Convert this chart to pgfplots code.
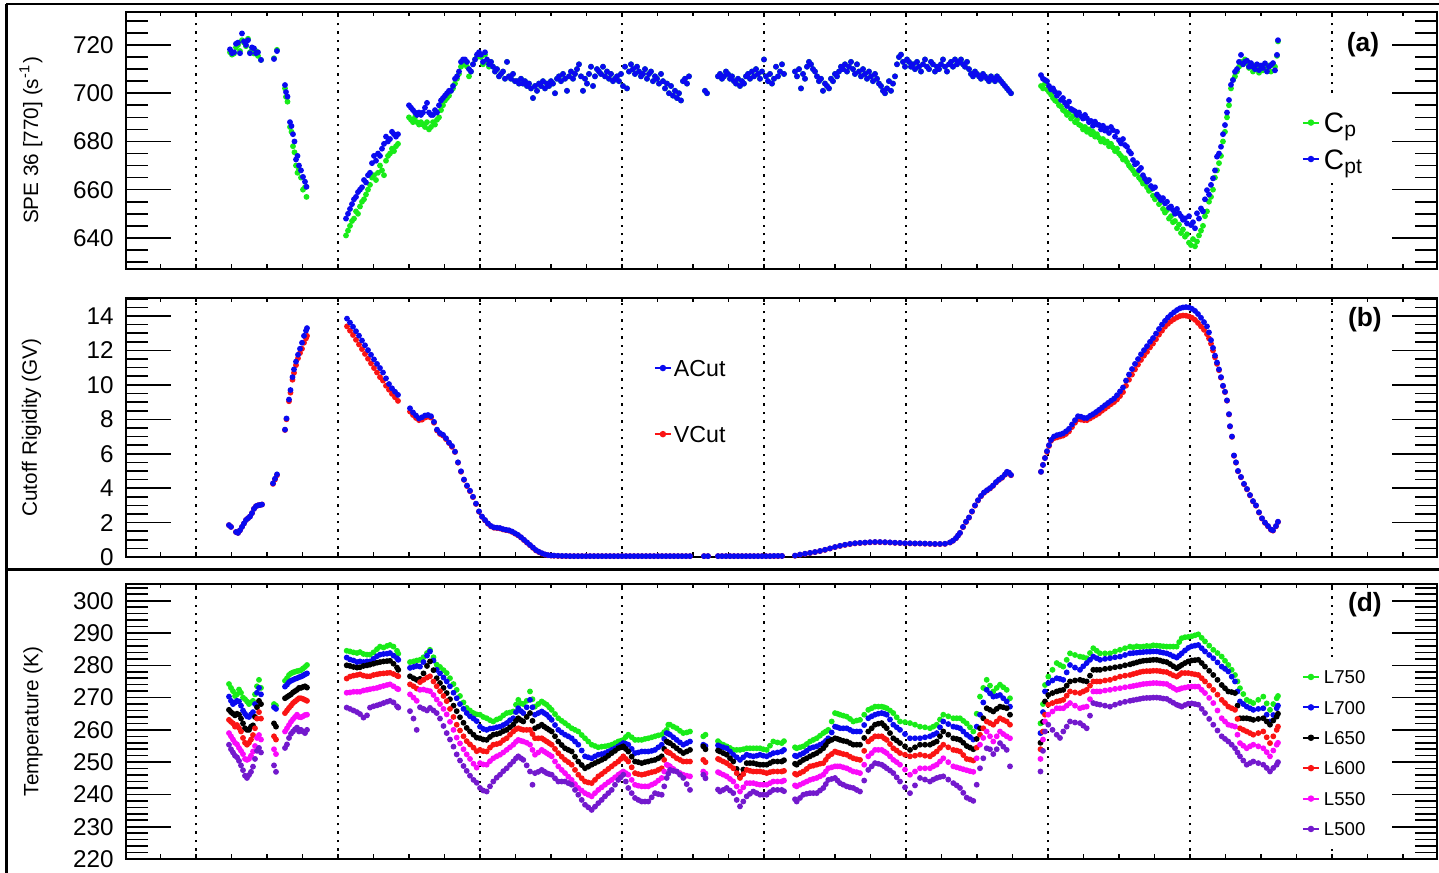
\documentclass[border=0pt]{standalone}
\usepackage{fontspec}
\setmainfont{Liberation Sans}
\usepackage{pgfplots}
\usepackage{pgfplotstable}
\pgfplotsset{compat=1.18}

\definecolor{cgreen}{RGB}{25,235,25}
\definecolor{cblue}{RGB}{10,10,240}
\definecolor{cred}{RGB}{250,20,20}
\definecolor{cmag}{RGB}{250,10,250}
\definecolor{cviol}{RGB}{115,25,205}

% ---------------- counting rates (panel a) ----------------
\pgfplotstableread{
x Cp Cpt
230 717.0 718.2
232 716.0 716.6
234 716.5 717.0
236 719.0 720.5
238 720.0 721.0
240 717.5 716.6
242 722.0 724.8
244 721.0 721.5
246 719.5 720.0
248 722.6 722.0
250 717.0 716.6
252 718.0 719.0
254 716.5 718.6
256 717.5 716.6
258 715.5 717.0
261 713.8 713.8
274 714.5 714.2
277 718.0 717.5
285 702.0 703.4
286 698.5 700.5
287.5 696.5 698.6
290 686.0 688.0
291.5 684.0 686.4
293 678.0 683.0
294.5 675.5 680.0
296 670.0 672.5
297.5 667.0 674.0
299 668.5 670.0
301 665.0 668.0
303 660.0 665.3
305 661.0 663.3
306.5 657.0 661.2
346 641 648
348 643 650
350 645 652
352 647 654
354 648 656
356 651 657
358 650 659
360 653 660
362 655 661
364 656 664
366 658 663
368 660 666
370 662 667
372 665 671
374 666 674
376 664 672
378 667 675
380 670 674
382 668 677
384 666 679
386 672 682
388 674 680
390 675 681
392 677 684
394 676 683
396 678 682
398 679 683
409 690 695
411 689 694
413 688 693
415 690 692
417 688 691
419 687 692
421 688 691
423 687 692
425 686 694
427 688 696
429 685 692
431 686 691
433 688 691
435 687 693
437 689 692
439 690 695
441 693 697
443 695 698
445 697 699
447 698 700
449 699 701
451 701 701
453 702 703
455 704 706
457 706 707
459 708 709
461 711 713
463 712 714
465 713 714
467 711 713
469 707 710
471 709 709
473 712 712
475 714 714
477 715 716
479 716 717
481 715 716
483 712 713
485 716 717
487 713 714
489 711 712
491 713 713
493 711 711
495 709 709
497 710 710
499 707 707
501 708 708
503 709 709
505 706 706
507 713 713
509 707 707
511 706 706
513 708 708
515 705 705
517 705 705
519 704 704
521 706 706
523 704 704
525 705 705
527 703 703
529 704 704
531 702 702
533 698 698
535 703 703
537 701 701
539 704 704
541 703 703
543 705 705
545 702 702
547 704 704
549 703 703
551 705 705
553 704 704
555 700 700
557 706 706
559 707 707
561 705 705
563 708 708
565 706 706
567 701 701
569 707 707
571 709 709
573 706 706
575 708 708
577 710 710
579 712 712
581 707 707
583 701 701
585 706 706
587 704 704
589 708 708
591 711 711
593 703 703
595 707 707
597 710 710
599 709 709
601 708 708
603 711 711
605 707 707
607 709 709
609 706 706
611 708 708
613 705 705
615 706 706
617 707 707
619 705 705
621 708 708
623 703 703
625 711 711
627 702 702
629 709 709
631 712 712
633 710 710
635 708 708
637 711 711
639 709 709
641 707 707
643 708 708
645 710 710
647 706 706
649 708 708
651 709 709
653 705 705
655 707 707
657 706 706
659 704 704
661 708 708
663 705 705
665 702 702
667 704 704
669 700 700
671 703 703
673 699 699
675 701 701
677 698 698
679 700 700
681 697 697
683 705 705
685 706 706
687 704 704
689 707 707
705 701 701
707 700 700
718 707 707
720 708 708
722 706 706
724 707 707
726 709 709
728 708 708
730 706 706
732 707 707
734 705 705
736 704 704
738 706 706
740 703 703
742 705 705
744 704 704
746 707 707
748 708 708
750 706 706
752 709 709
754 707 707
756 710 710
758 708 708
760 706 706
762 709 709
764 714 714
766 707 707
768 705 705
770 708 708
772 704 704
774 706 706
776 711 711
778 707 707
780 709 709
782 712 712
784 708 708
795 709 709
797 707 707
799 710 710
801 702 702
803 708 708
805 706 706
807 711 711
809 713 713
811 712 712
813 710 710
815 709 709
817 707 707
819 705 705
821 706 706
823 701 701
825 704 704
827 703 703
829 702 702
831 706 706
833 705 705
835 708 708
837 707 707
839 709 709
841 711 711
843 710 710
845 712 712
847 709 709
849 711 711
851 713 713
853 710 710
855 708 708
857 712 712
859 709 709
861 707 707
863 710 710
865 708 708
867 706 706
869 709 709
871 707 707
873 705 705
875 708 708
877 706 706
879 704 704
881 703 703
883 701 701
885 700 700
887 702 702
889 705 705
891 701 701
893 704 704
895 707 707
897 712 712
899 715 715
901 716 716
903 713 713
905 711 711
907 714 714
909 713 713
911 711 711
913 712 712
915 710 710
917 713 713
919 711 711
921 709 709
923 712 712
925 714 714
927 711 711
929 710 710
931 713 713
933 712 712
935 709 709
937 711 711
939 710 710
941 712 712
943 714 714
945 711 711
947 709 709
949 712 712
951 713 713
953 711 711
955 714 714
957 712 712
959 713 713
961 714 714
963 712 712
965 711 711
967 713 713
969 710 710
971 708 708
973 707 707
975 709 709
977 708 708
979 707 707
981 706 706
983 708 708
985 707 707
987 706 706
989 705 705
991 707 707
993 706 706
995 705 705
997 707 707
999 706 706
1001 705 705
1003 704 704
1005 703 703
1007 702 702
1009 701 701
1011 700 700
1041 703.0 707.5
1043 702.0 706.0
1045 704.0 705.5
1047 701.6 705.0
1049 700.5 703.0
1051 699.5 701.6
1053 698.0 702.0
1055 697.0 700.6
1057 696.5 699.0
1059 695.0 700.0
1061 694.5 697.2
1063 693.0 698.0
1065 692.5 696.0
1067 691.0 694.7
1069 692.0 696.5
1071 689.5 693.5
1073 690.5 693.0
1075 688.0 692.5
1077 689.0 691.0
1079 687.0 692.0
1081 686.5 690.5
1083 685.0 689.5
1085 686.0 691.0
1087 684.0 689.6
1089 685.0 688.0
1091 683.0 688.5
1093 684.0 686.5
1095 682.0 688.2
1097 683.0 687.0
1099 681.5 686.8
1101 680.0 685.0
1103 681.0 686.5
1105 679.5 684.5
1107 680.0 685.4
1109 678.0 683.5
1111 679.0 686.0
1113 677.5 684.7
1115 676.0 682.0
1117 677.0 684.0
1119 675.0 680.5
1121 674.0 679.2
1123 672.5 681.0
1125 673.0 678.5
1127 671.5 677.8
1129 670.0 676.0
1131 669.0 675.0
1133 668.0 672.3
1135 666.5 670.5
1137 667.0 671.0
1139 665.0 668.1
1141 664.0 669.0
1143 662.5 666.0
1145 663.0 664.5
1147 661.0 663.3
1149 659.5 664.0
1151 660.0 661.5
1153 657.5 660.5
1155 656.0 661.0
1157 657.0 658.0
1159 654.0 657.0
1161 655.0 655.7
1163 652.0 656.5
1165 650.5 654.3
1167 651.5 655.0
1169 648.0 652.5
1171 649.0 653.0
1173 646.5 651.5
1175 647.0 650.0
1177 644.0 652.0
1179 645.5 650.2
1181 642.0 649.0
1183 643.5 647.5
1185 640.5 648.1
1187 641.5 646.0
1189 638.0 649.0
1191 637.0 645.3
1193 639.5 646.5
1195 636.5 644.0
1197 638.5 650.2
1199 641.0 648.0
1201 643.0 652.2
1203 645.0 651.0
1205 649.0 656.0
1207 651.0 659.8
1209 655.0 658.0
1211 657.0 662.0
1213 660.0 664.7
1215 665.0 668.0
1217 668.0 673.7
1219 671.0 675.0
1221 674.0 677.8
1223 680.0 683.0
1225 684.0 686.8
1227 690.0 692.0
1229 695.0 697.2
1231 702.0 703.5
1233 705.5 705.5
1235 707.0 708.9
1237 709.0 710.0
1239 711.0 713.0
1241 713.0 715.9
1243 712.0 712.0
1245 714.0 713.1
1247 712.5 713.5
1249 710.5 711.0
1251 712.0 712.5
1253 709.0 711.0
1255 711.5 710.0
1257 710.0 712.0
1259 708.5 709.6
1261 711.0 711.5
1263 709.5 710.5
1265 712.0 712.4
1267 710.5 709.0
1269 711.5 711.0
1271 709.0 711.7
1273 712.0 712.5
1275 711.0 709.5
1277 715.5 715.9
1278 721.5 722.0
}\tabRate

% ---------------- cutoff rigidities (panel b) ----------------
\pgfplotstableread{
x A V
229 1.85 1.85
231 1.75 1.75
236 1.45 1.45
238 1.40 1.40
240 1.55 1.55
242 1.75 1.75
244 1.95 1.95
246 2.15 2.15
248 2.25 2.25
250 2.35 2.35
252 2.55 2.55
254 2.80 2.80
256 2.95 2.95
258 3.00 3.00
260 3.02 3.02
262 3.05 3.05
273 4.28 4.25
275 4.55 4.50
277 4.80 4.75
285 7.40 7.38
286.5 8.05 8.00
289 9.15 9.05
290.5 9.70 9.55
292.5 10.45 10.30
294 10.90 10.70
296 11.35 11.15
298 11.75 11.55
300 12.10 11.85
302 12.45 12.10
304 12.85 12.45
306 13.15 12.70
307 13.30 12.85
347 13.85 13.40
350 13.62 13.15
353 13.38 12.90
356 13.12 12.62
359 12.86 12.35
362 12.58 12.08
365 12.30 11.80
368 12.02 11.52
371 11.75 11.25
374 11.48 10.98
377 11.22 10.72
380 10.98 10.45
383 10.72 10.25
386 10.38 9.95
389 10.05 9.72
392 9.80 9.48
395 9.60 9.28
398 9.42 9.07
410 8.64 8.45
413 8.40 8.25
416 8.22 8.08
419 8.05 7.95
422 8.12 7.98
425 8.22 8.10
428 8.25 8.15
431 8.18 8.10
434 7.85 7.80
437 7.40 7.35
440 7.20 7.15
443 7.10 7.05
446 6.90 6.85
449 6.65 6.62
452 6.45 6.40
455 6.12 6.10
458 5.50 5.48
461 4.98 4.95
464 4.50 4.48
467 4.15 4.12
470 3.85 3.82
473 3.50 3.48
476 3.10 3.08
479 2.65 2.63
482 2.35 2.33
485 2.15 2.13
488 1.95 1.93
491 1.80 1.78
494 1.72 1.70
497 1.70 1.68
500 1.68 1.66
503 1.62 1.60
506 1.58 1.56
509 1.55 1.53
512 1.48 1.46
515 1.38 1.36
518 1.28 1.26
521 1.15 1.13
524 1.00 0.98
527 0.85 0.83
530 0.70 0.68
533 0.55 0.53
536 0.40 0.38
539 0.30 0.28
542 0.22 0.20
545 0.15 0.14
548 0.11 0.10
551 0.09 0.08
554 0.08 0.07
558 0.07 0.06
562 0.06 0.05
566 0.06 0.05
570 0.05 0.05
574 0.05 0.05
578 0.05 0.05
582 0.05 0.05
586 0.05 0.05
590 0.05 0.05
594 0.05 0.05
598 0.05 0.05
602 0.05 0.05
606 0.05 0.05
610 0.05 0.05
614 0.05 0.05
618 0.05 0.05
622 0.05 0.05
626 0.05 0.05
630 0.05 0.05
634 0.05 0.05
638 0.05 0.05
642 0.05 0.05
646 0.05 0.05
650 0.05 0.05
654 0.05 0.05
658 0.05 0.05
662 0.05 0.05
666 0.05 0.05
670 0.05 0.05
674 0.05 0.05
678 0.05 0.05
682 0.05 0.05
686 0.05 0.05
690 0.05 0.05
704 0.05 0.05
708 0.05 0.05
718 0.05 0.05
722 0.05 0.05
726 0.05 0.05
730 0.05 0.05
734 0.05 0.05
738 0.05 0.05
742 0.05 0.05
746 0.05 0.05
750 0.05 0.05
754 0.05 0.05
758 0.05 0.05
762 0.05 0.05
766 0.05 0.05
770 0.05 0.05
774 0.06 0.05
778 0.06 0.05
782 0.06 0.06
795 0.08 0.07
800 0.14 0.13
805 0.19 0.18
810 0.24 0.23
815 0.29 0.28
820 0.35 0.34
825 0.42 0.41
830 0.50 0.49
835 0.58 0.57
840 0.65 0.64
845 0.71 0.70
850 0.76 0.75
855 0.80 0.79
860 0.82 0.81
865 0.84 0.83
870 0.86 0.85
875 0.87 0.86
880 0.87 0.86
885 0.86 0.85
890 0.85 0.84
895 0.83 0.82
900 0.82 0.81
905 0.80 0.79
910 0.80 0.79
915 0.79 0.78
920 0.79 0.78
925 0.78 0.77
930 0.77 0.76
935 0.76 0.75
940 0.76 0.75
945 0.77 0.76
950 0.85 0.84
953 0.95 0.94
956 1.10 1.09
958 1.25 1.24
960 1.40 1.39
963 1.75 1.73
966 2.05 2.03
969 2.30 2.28
972 2.65 2.63
975 3.00 2.98
978 3.30 3.28
981 3.55 3.53
984 3.75 3.73
987 3.88 3.86
990 4.00 3.98
993 4.15 4.13
996 4.35 4.33
999 4.50 4.48
1002 4.62 4.60
1005 4.80 4.78
1007 4.95 4.93
1009 4.90 4.88
1011 4.77 4.75
1041 4.95 4.95
1043 5.35 5.35
1045 5.75 5.75
1047 6.15 6.10
1049 6.50 6.45
1051 6.80 6.75
1054 7.00 6.90
1057 7.08 6.95
1060 7.12 7.00
1063 7.18 7.05
1066 7.30 7.15
1069 7.45 7.30
1072 7.70 7.55
1075 7.95 7.80
1078 8.18 8.00
1081 8.15 7.98
1084 8.08 7.95
1087 8.08 7.95
1090 8.20 8.05
1093 8.30 8.15
1096 8.42 8.25
1099 8.55 8.35
1102 8.68 8.50
1105 8.82 8.62
1108 8.95 8.75
1111 9.08 8.88
1114 9.20 9.00
1117 9.40 9.15
1120 9.62 9.35
1123 9.85 9.58
1126 10.25 9.95
1129 10.60 10.30
1132 10.92 10.60
1135 11.22 10.90
1138 11.50 11.18
1141 11.78 11.45
1144 12.02 11.70
1147 12.25 11.92
1150 12.50 12.18
1153 12.72 12.40
1156 12.98 12.65
1159 13.25 12.92
1162 13.50 13.15
1165 13.72 13.38
1168 13.92 13.55
1171 14.08 13.70
1174 14.22 13.82
1177 14.35 13.92
1180 14.45 14.00
1183 14.50 14.03
1186 14.52 14.02
1189 14.50 13.98
1192 14.42 13.90
1195 14.30 13.78
1198 14.12 13.60
1201 13.90 13.40
1204 13.65 13.20
1207 13.40 12.95
1209 13.05 12.70
1211 12.60 12.40
1213 12.15 12.00
1215 11.70 11.60
1217 11.30 11.22
1219 10.90 10.85
1221 10.45 10.42
1223 9.95 9.93
1225 9.60 9.58
1227 9.10 9.08
1229 8.30 8.28
1230 7.60 7.58
1232 7.00 6.98
1234 5.90 5.88
1236 5.50 5.48
1238 5.00 4.98
1241 4.65 4.63
1244 4.25 4.23
1247 3.95 3.93
1250 3.60 3.58
1253 3.25 3.23
1256 3.00 2.98
1259 2.60 2.58
1262 2.25 2.23
1265 2.00 1.98
1268 1.80 1.78
1271 1.60 1.58
1273 1.55 1.53
1276 1.80 1.78
1278 2.05 2.03
}\tabCut

% ---------------- temperatures by level (panel d) ----------------
\pgfplotstableread{
x G B K R M V
229 274.2 270.3 266.2 263.1 259.0 255.4
231 273.0 269.0 265.5 262.5 258.0 254.0
233 272.0 268.0 265.0 262.0 257.0 253.0
235 270.5 268.5 264.5 261.0 256.0 252.0
237 271.0 269.0 265.0 261.5 255.5 251.5
239 272.5 268.8 264.7 260.6 254.4 250.4
241 271.5 267.5 263.5 259.5 253.5 249.0
243 270.0 266.0 262.0 257.5 252.5 247.5
245 269.5 265.0 260.5 256.0 251.0 245.8
247 268.8 264.2 260.0 255.4 250.7 245.1
249 268.0 264.0 260.0 256.0 251.0 246.0
251 268.5 264.8 261.0 257.0 252.0 247.0
253 269.0 265.5 261.4 258.4 253.3 248.6
255 271.0 268.0 264.0 260.5 255.0 251.0
257 273.5 271.5 267.0 263.5 257.5 253.5
259 275.5 273.0 269.0 265.5 258.4 254.4
261 273.0 271.0 268.0 263.5 257.0 253.0
274 268.0 267.0 262.0 258.0 254.0 249.0
276 267.5 266.5 261.0 257.0 252.5 247.0
285 275.2 273.4 269.8 265.2 259.5 254.4
287 276.0 274.0 270.2 266.0 260.5 255.5
289 277.0 274.8 270.6 266.8 261.5 257.5
291 277.5 275.2 271.0 267.5 262.5 258.8
293 277.8 275.5 271.6 268.3 263.3 259.5
295 278.0 275.8 272.0 268.8 264.0 260.2
297 278.2 276.0 272.4 269.3 264.7 260.7
299 278.3 276.3 273.0 269.8 264.0 259.5
301 278.5 276.5 273.0 269.8 263.9 260.0
303 279.0 276.8 273.3 269.6 264.2 259.5
305 279.5 277.2 273.5 269.3 264.6 259.0
307 280.1 277.5 273.1 269.0 264.7 260.0
346.7 284.5 282.4 280.0 275.9 271.5 266.9
350.0 284.3 281.8 279.8 276.5 271.6 266.5
353.5 284.0 281.5 279.5 276.8 271.8 266.0
357.0 283.8 281.0 279.3 277.0 271.8 265.5
360.0 284.1 281.2 279.4 277.2 271.8 264.9
363.5 283.5 281.0 279.8 276.8 272.2 263.8
367.0 283.3 281.2 280.0 276.6 272.4 264.5
370.0 283.3 281.2 280.2 276.6 272.6 266.9
373.5 284.0 282.0 280.5 277.0 272.8 267.3
377.0 285.0 282.8 280.8 277.2 273.0 267.6
380.0 285.8 283.3 281.0 277.4 273.3 267.9
383.5 285.5 283.5 281.2 277.5 273.6 268.3
387.0 286.0 283.6 281.3 277.6 273.9 268.7
390.0 286.3 283.8 281.4 277.7 274.1 269.0
393.5 285.8 283.0 280.5 277.3 273.5 268.5
397.0 284.5 282.2 279.3 276.8 272.8 267.3
398.3 283.6 281.7 278.6 276.6 272.6 266.9
410.0 281.0 279.2 276.6 274.1 271.0 265.8
413.5 281.2 279.5 276.0 273.5 270.0 263.5
416.7 281.5 279.8 275.5 272.8 269.0 260.0
420.0 281.7 279.6 275.8 274.8 272.4 267.0
423.5 282.5 281.0 277.5 275.5 272.5 266.5
427.0 283.8 283.0 279.8 276.2 272.2 266.0
430.0 284.8 284.3 281.2 276.6 272.0 266.8
433.5 282.5 281.5 278.5 275.0 270.8 266.0
436.7 280.2 278.6 276.0 273.5 269.4 265.2
440.0 279.5 277.5 274.5 272.0 268.0 263.5
443.5 278.5 276.2 273.0 270.5 266.5 261.2
446.7 277.6 275.0 271.4 268.9 264.8 259.0
450.0 276.0 273.5 269.5 266.5 262.5 257.0
453.5 274.2 271.5 267.5 264.0 260.0 254.8
456.7 272.4 269.8 265.8 261.6 257.6 252.4
460.0 270.5 268.0 263.9 259.8 255.8 250.5
463.5 268.5 266.5 262.2 258.0 254.0 248.8
466.7 266.8 265.2 260.6 256.5 252.4 247.3
470.0 266.0 264.2 259.5 255.5 251.0 245.8
473.5 265.2 263.5 258.5 254.5 249.5 244.5
476.7 264.8 262.7 257.6 253.4 248.3 243.6
480.0 264.7 261.0 257.4 253.8 249.7 242.0
483.3 264.0 260.3 257.0 253.4 249.3 241.2
486.7 263.6 260.0 256.9 253.3 249.2 240.9
490.0 263.0 260.4 257.8 254.5 250.3 242.5
493.3 262.6 260.5 258.5 255.4 251.2 244.0
496.7 263.2 260.8 258.7 255.6 251.8 245.2
500.0 263.6 261.0 259.0 255.9 252.3 246.1
503.3 264.5 261.5 259.6 256.8 253.0 247.2
506.7 265.2 262.1 260.0 257.4 253.8 248.1
510.0 265.4 263.0 260.8 258.5 254.6 249.2
513.3 265.7 263.6 261.6 259.5 255.4 250.2
516.0 267.8 265.5 262.8 260.2 256.3 251.2
518.3 269.3 266.7 263.6 260.5 256.9 251.8
521.0 268.2 265.8 263.0 260.2 256.6 251.2
523.3 268.0 265.2 262.6 260.0 256.4 250.7
526.7 269.0 267.0 264.0 260.0 256.0 249.0
530.0 271.9 269.3 265.2 260.0 255.4 247.1
532.5 269.5 267.0 262.8 258.7 253.8 243.0
535.0 267.2 264.7 260.5 257.4 252.3 246.6
538.3 268.0 265.2 261.0 257.4 253.0 247.0
541.7 268.8 265.7 261.6 257.4 253.8 247.6
544.2 268.3 265.2 261.0 256.9 253.3 247.1
546.7 267.8 264.7 260.5 256.4 252.8 246.6
549.2 267.0 263.9 260.0 255.9 252.3 246.3
551.7 266.2 263.1 259.5 255.4 251.8 246.1
555.0 264.9 261.5 258.0 254.1 250.2 245.0
558.3 263.6 260.0 256.4 252.8 248.7 244.0
561.7 262.8 259.2 255.3 251.7 247.6 244.0
565.0 262.1 258.5 254.3 250.7 246.6 244.0
568.3 261.3 258.0 253.8 250.0 245.5 243.5
571.7 260.5 257.4 253.3 249.2 244.5 243.0
575.0 260.0 256.4 251.7 247.6 243.2 241.4
578.3 259.5 255.4 250.2 246.1 242.0 239.9
581.7 258.4 253.6 249.1 245.0 241.2 238.3
585.0 257.4 251.8 248.1 244.0 240.4 236.8
588.3 256.4 251.5 248.6 243.7 239.9 236.0
591.7 255.4 251.2 249.2 243.5 239.4 235.2
595.0 255.0 251.8 249.7 244.5 240.4 236.2
598.3 254.6 252.3 250.2 245.6 241.4 237.3
601.7 254.8 252.5 250.7 246.3 242.2 238.3
605.0 254.9 252.8 251.2 247.1 243.0 239.4
608.3 255.1 253.3 252.0 247.9 243.8 240.4
611.7 255.4 253.8 252.8 248.7 244.5 241.4
615.0 255.9 254.3 253.5 249.5 245.3 243.0
618.3 256.4 254.9 254.3 250.2 246.1 244.5
620.8 256.6 255.4 254.6 251.0 246.6 245.3
623.3 256.9 255.9 254.9 251.8 247.1 246.1
625.8 257.8 255.7 254.1 251.0 246.6 244.0
628.3 258.5 255.4 253.3 250.2 246.1 242.0
631.7 257.7 254.1 251.7 248.4 244.5 240.4
635.0 256.9 252.8 250.2 246.6 243.0 238.9
638.3 256.9 253.0 250.0 246.3 242.7 238.3
641.7 256.9 253.3 249.7 246.1 242.5 237.8
645.0 257.2 253.3 250.0 246.3 242.5 237.8
648.3 257.4 253.3 250.2 246.6 242.5 237.8
651.7 257.7 253.5 250.5 246.9 243.0 239.1
655.0 258.0 253.8 250.7 247.1 243.5 240.4
658.3 258.3 254.6 251.2 247.6 244.3 240.1
661.7 258.5 255.4 251.8 248.1 245.1 239.9
664.2 259.3 257.2 254.1 250.7 247.1 242.5
666.7 260.0 259.0 256.4 253.3 249.2 245.1
668.3 261.6 258.8 256.1 253.0 249.0 246.4
670.0 261.6 258.5 255.9 252.8 248.7 247.6
673.3 261.0 257.7 255.1 252.0 247.9 247.3
676.7 260.5 256.9 254.3 251.2 247.1 247.1
680.0 259.7 256.1 253.5 250.7 246.6 246.1
683.3 259.0 255.4 252.8 250.2 246.1 245.1
686.7 259.2 255.9 253.3 250.2 245.8 243.2
690.0 259.5 256.4 253.8 250.2 245.6 241.4
703.3 258.0 255.4 254.9 250.7 247.1 246.1
705.5 258.5 255.0 254.0 250.0 246.5 245.0
718.0 256.5 255.2 253.6 251.0 246.9 241.5
720.0 255.9 254.9 253.3 250.7 246.6 240.9
723.3 255.4 254.6 252.8 250.2 246.1 241.4
726.7 254.9 254.3 252.3 249.7 245.6 242.0
730.0 254.4 253.3 251.2 248.9 244.8 241.2
733.3 253.8 252.3 250.2 248.1 244.0 240.4
736.7 253.8 251.5 247.9 246.6 242.5 238.3
740.0 253.8 250.7 245.6 245.1 240.9 236.3
743.3 254.0 251.5 247.7 246.3 242.2 237.8
746.7 254.3 252.3 249.7 247.6 243.5 239.4
750.0 254.3 252.0 249.7 247.3 243.5 240.2
753.3 254.3 251.8 249.7 247.1 243.5 240.9
756.7 254.3 252.0 249.4 247.1 243.2 240.4
760.0 254.3 252.3 249.2 247.1 243.0 239.9
763.3 254.0 252.0 249.2 246.9 243.0 239.9
766.7 253.8 251.8 249.2 246.6 243.0 239.9
770.0 255.1 252.3 249.7 246.9 243.5 240.7
773.3 256.4 252.8 250.2 247.1 244.0 241.4
777.5 256.1 253.0 250.2 247.1 244.0 241.4
781.7 255.9 253.3 250.2 247.1 244.0 241.4
784.0 256.5 253.8 250.6 247.3 244.3 241.0
795.0 254.6 252.0 249.5 246.4 242.8 238.5
796.7 254.3 251.8 249.2 246.1 242.5 237.8
800.0 254.6 252.3 250.0 246.6 243.0 238.9
803.3 254.9 252.8 250.7 247.1 243.5 239.9
806.7 255.6 253.5 251.2 247.9 244.0 240.2
810.0 256.4 254.3 251.8 248.7 244.5 240.4
813.3 256.9 254.6 252.3 248.9 244.8 240.4
816.7 257.4 254.9 252.8 249.2 245.1 240.4
820.0 258.2 255.4 253.5 249.5 245.6 241.2
823.3 259.0 255.9 254.3 249.7 246.1 242.0
825.8 259.5 256.6 255.3 250.7 247.1 243.2
828.3 260.0 257.4 256.4 251.8 248.1 244.5
831.7 262.6 259.2 256.9 252.5 248.4 244.8
835.0 265.2 261.0 257.4 253.3 248.7 245.1
837.5 265.0 260.8 257.2 253.0 248.7 244.3
840.0 264.7 260.5 256.9 252.8 248.7 243.5
843.3 264.4 260.5 256.6 252.5 248.4 243.0
846.7 264.1 260.5 256.4 252.3 248.1 242.5
850.0 263.4 260.0 255.9 251.7 247.6 242.2
853.3 262.6 259.5 255.4 251.2 247.1 242.0
856.7 262.9 259.5 255.4 250.9 246.9 241.4
860.0 263.1 259.5 255.4 250.7 246.6 240.9
864.2 264.7 261.5 257.5 253.5 249.2 244.3
868.3 266.2 263.6 259.5 256.4 251.8 247.6
871.7 266.7 264.2 260.5 257.2 252.8 248.7
875.0 267.2 264.7 261.6 258.0 253.8 249.7
878.3 267.2 265.0 261.9 258.0 253.8 249.5
881.7 267.2 265.2 262.1 258.0 253.8 249.2
884.2 267.0 265.0 261.3 257.4 253.3 248.7
886.7 266.7 264.7 260.5 256.9 252.8 248.1
890.0 266.0 263.2 259.0 255.6 251.8 247.4
893.3 265.2 261.6 257.4 254.3 250.7 246.6
896.7 263.9 260.8 256.7 253.6 250.0 245.3
900.0 262.6 260.0 255.9 252.8 249.2 244.0
905.0 262.4 258.7 254.9 252.3 247.7 242.2
910.0 262.1 257.4 253.8 251.8 246.1 240.4
915.0 261.6 257.4 254.6 252.0 247.1 242.8
920.0 261.0 257.4 255.4 252.3 248.1 245.1
925.0 260.8 257.7 255.4 252.0 248.1 244.6
930.0 260.5 258.0 255.4 251.8 248.1 244.0
933.3 261.0 258.5 255.9 252.5 248.7 244.6
936.7 261.6 259.0 256.4 253.3 249.2 245.1
940.0 263.2 260.8 258.0 254.4 250.2 245.4
943.3 264.7 262.6 259.5 255.4 251.2 245.6
948.3 264.2 261.8 258.5 254.6 250.0 244.6
953.3 263.6 261.0 257.4 253.8 248.7 243.5
956.7 263.6 260.8 257.2 253.6 248.4 242.8
960.0 263.6 260.5 256.9 253.3 248.1 242.0
963.3 262.8 259.5 256.0 252.2 247.8 240.5
966.7 262.0 258.5 255.0 251.0 247.5 239.0
970.0 260.8 257.8 254.5 250.8 247.2 238.5
973.3 259.5 257.0 254.0 250.5 247.0 238.0
976.7 265.0 261.0 257.2 254.5 251.2 243.0
980.0 270.3 264.7 260.5 258.5 255.4 248.1
983.3 273.0 268.5 263.6 260.5 257.5 251.2
986.7 275.5 272.4 266.7 262.6 259.5 254.3
990.0 273.7 271.3 266.2 262.1 258.0 254.0
993.3 271.9 270.3 265.7 261.6 256.4 252.5
996.7 273.0 270.5 266.5 262.6 258.0 254.0
1000.0 274.0 270.8 267.2 263.6 259.5 255.9
1003.3 273.2 269.8 267.0 263.1 258.7 254.8
1006.7 272.4 268.8 266.7 262.6 258.0 253.8
1010.0 269.8 267.2 264.7 261.6 257.4 248.7
1040.5 262.0 259.0 256.0 254.0 251.0 247.1
1043.0 268.0 265.5 262.5 259.5 257.0 253.5
1045.0 273.9 271.9 268.8 264.7 262.6 259.5
1048.3 276.5 274.5 270.8 267.8 264.7 261.6
1052.5 278.6 275.3 271.4 268.3 265.7 260.0
1056.7 280.7 276.0 271.9 268.8 266.7 258.5
1060.0 280.1 275.8 272.2 269.0 266.7 257.5
1063.3 279.6 275.5 272.4 269.3 266.7 259.5
1066.7 281.7 277.8 273.7 270.6 267.5 261.0
1070.0 283.7 280.1 275.0 271.9 268.3 262.6
1075.0 283.2 279.3 275.3 271.6 267.5 262.3
1080.0 282.7 278.6 275.5 271.4 266.7 262.1
1083.3 282.5 279.7 275.2 271.9 267.0 261.3
1086.7 282.2 280.7 275.0 272.4 267.2 260.5
1090.0 283.8 281.7 276.8 273.7 269.5 264.4
1093.3 285.3 282.7 278.6 275.0 271.9 268.3
1096.7 284.5 282.2 278.6 275.0 271.9 268.0
1100.0 283.7 281.7 278.6 275.0 271.9 267.8
1105.0 283.7 282.0 278.9 275.3 272.2 267.5
1110.0 283.7 282.2 279.1 275.5 272.4 267.2
1115.0 284.3 282.5 279.4 276.0 272.7 267.8
1120.0 284.8 282.7 279.6 276.5 272.9 268.3
1125.0 285.3 283.2 280.0 276.8 273.2 268.7
1130.0 285.8 283.7 280.3 277.0 273.4 269.0
1133.3 285.6 283.8 280.6 277.3 273.6 269.2
1136.7 285.9 283.9 280.9 277.6 273.8 269.4
1140.0 285.7 284.0 281.2 277.9 274.0 269.6
1143.3 285.8 284.1 281.4 278.1 274.2 269.8
1146.7 286.0 284.2 281.5 278.2 274.3 269.9
1150.0 285.9 284.2 281.6 278.2 274.4 269.9
1153.3 286.2 284.3 281.7 278.3 274.5 270.0
1156.7 286.1 284.3 281.7 278.3 274.5 270.0
1160.0 286.0 284.1 281.5 278.2 274.4 269.9
1163.3 285.9 283.9 281.2 278.0 274.3 269.7
1166.7 285.8 283.7 281.0 277.9 274.2 269.6
1170.0 285.8 283.3 280.4 277.4 273.6 269.0
1173.3 285.8 282.8 279.7 276.9 273.0 268.4
1176.7 285.8 282.4 279.1 276.5 272.4 267.8
1179.2 287.2 283.0 279.6 277.0 272.6 267.5
1181.7 288.4 283.7 280.1 277.6 272.9 267.2
1185.0 288.7 284.6 280.7 277.6 273.1 267.7
1188.3 288.8 285.4 281.2 277.6 273.3 268.1
1191.7 289.0 285.9 281.5 277.4 273.4 268.2
1195.0 289.3 286.1 281.6 277.2 273.4 268.0
1198.3 289.6 286.3 281.7 277.0 273.4 267.8
1201.7 288.5 285.3 280.7 276.0 272.4 266.5
1205.0 287.4 284.3 279.6 275.0 271.4 265.2
1209.2 286.1 283.2 278.3 273.7 269.9 263.4
1213.3 284.8 282.2 277.0 272.4 268.3 261.6
1217.5 283.8 280.9 275.5 270.9 266.0 259.8
1221.7 282.7 279.6 273.9 269.3 263.6 258.0
1225.0 281.4 278.9 272.9 268.3 262.6 257.2
1228.3 280.1 278.1 271.9 267.2 261.6 256.4
1231.7 278.6 276.5 271.7 266.7 261.3 255.4
1235.0 277.0 275.0 271.4 266.2 261.0 254.3
1237.5 275.0 271.9 267.5 263.4 258.5 253.0
1240.0 272.9 268.8 263.6 260.5 255.9 251.8
1243.3 271.1 268.0 263.6 260.0 255.1 250.5
1246.7 269.3 267.2 263.6 259.5 254.3 249.2
1250.0 268.8 266.7 263.4 259.0 254.9 249.7
1253.3 268.3 266.2 263.1 258.5 255.4 250.2
1258.3 269.3 266.5 263.4 259.0 254.9 249.7
1263.3 270.3 266.7 263.6 259.5 254.3 249.2
1266.7 268.2 264.7 262.6 257.7 253.1 248.2
1270.0 266.2 262.6 261.6 255.9 251.8 247.1
1273.3 268.0 264.6 262.9 258.0 253.6 248.2
1276.7 269.8 266.7 264.1 260.0 255.4 249.2
1278.0 270.5 267.5 265.0 261.0 256.0 250.0
}\tabTemp

\tikzset{tag/.style={font=\bfseries\fontsize{7.5}{9}\selectfont}}

\pgfplotsset{
  panel/.style={
    scale only axis, width=131.1mm,
    xmin=126, xmax=1437,
    xtick={196,338,...,1332},
    minor xtick={160.5,196,...,1403},
    xticklabels={},
    xmajorgrids,
    major x grid style={black, line width=0.26mm, dash pattern=on 0.24mm off 0.6mm},
    tick align=inside,
    major tick length=4.5mm, minor tick length=2.2mm,
    xtick style={/pgfplots/major tick length=0.45mm, /pgfplots/minor tick length=0.45mm},
    tick style={black, line width=0.16mm},
    axis line style={line width=0.22mm},
    yticklabel style={font=\fontsize{6.9}{8}\selectfont},
    /pgf/number format/assume math mode=true,
    ylabel style={font=\fontsize{5.9}{7}\selectfont, anchor=center},
    legend cell align=left,
    legend image code/.code={%
      \draw[#1, sharp plot, line width=0.2mm, mark repeat=2, mark phase=2]
        plot coordinates {(0mm,0mm) (0.8mm,0mm) (1.6mm,0mm)};},
  },
  dots/.style={only marks, mark=*, mark size=0.62pt, mark options={draw=none}},
}

\begin{document}
\begin{tikzpicture}
\path[use as bounding box] (0,0) rectangle (143.9mm,-87.3mm);

% outer frames of the two pads
\draw[line width=0.22mm] (0.65mm,-0.4mm) -- (143.9mm,-0.4mm);
\draw[line width=0.22mm] (0.65mm,-0.4mm) -- (0.65mm,-87.3mm);
\draw[line width=0.22mm] (0.65mm,-56.95mm) -- (143.9mm,-56.95mm);

% (a) counting rate
\begin{axis}[panel, at={(12.6mm,-26.9mm)}, anchor=south west, height=25.7mm,
  ymin=627.1, ymax=733.7,
  ytick={640,660,...,720}, minor ytick={630,635,...,730},
  ylabel={SPE 36 [770] (s\textsuperscript{-1})},
  ylabel style={at={(axis description cs:-0.0725,0.5)}},
  legend style={draw=none, fill=white, inner sep=0.5mm, outer sep=0pt,
    at={(axis description cs:0.8932,0.660)}, anchor=north west,
    font=\fontsize{8}{9}\selectfont, column sep=0.4mm, row sep=0pt,
    nodes={inner sep=0pt, text height=8.05pt, text depth=2.32pt}},
]
\addplot[dots, cgreen] table[x=x, y=Cp] {\tabRate};
\addplot[dots, cblue] table[x=x, y=Cpt] {\tabRate};
\legend{C\textsubscript{p}, C\textsubscript{pt}}
\node[tag] at (axis description cs:0.9436,0.8716) {(a)};
\end{axis}

% (b) cutoff rigidity
\begin{axis}[panel, at={(12.6mm,-55.7mm)}, anchor=south west, height=25.9mm,
  ymin=0, ymax=15.05,
  ytick={0,2,...,14}, minor ytick={0,0.5,...,15},
  ylabel={Cutoff Rigidity (GV)},
  ylabel style={at={(axis description cs:-0.0721,0.5)}},
  reverse legend,
  legend style={draw=none, fill=white, inner sep=0pt, outer sep=0pt,
    at={(axis description cs:0.4027,0.857)}, anchor=north west,
    font=\fontsize{6.6}{8}\selectfont, column sep=0.2mm, row sep=0pt,
    nodes={inner sep=0pt, text height=11.76pt, text depth=7.04pt}},
]
\addplot[dots, cred] table[x=x, y=V] {\tabCut};
\addplot[dots, cblue] table[x=x, y=A] {\tabCut};
\legend{VCut, ACut}
\node[tag] at (axis description cs:0.945,0.915) {(b)};
\end{axis}

% (d) temperature at pressure levels
\begin{axis}[panel, at={(12.6mm,-85.9mm)}, anchor=south west, height=27.5mm,
  ymin=220, ymax=305.2,
  ytick={220,230,...,300}, minor ytick={220,222,...,304},
  ylabel={Temperature (K)},
  ylabel style={at={(axis description cs:-0.0709,0.5)}},
  legend style={draw=none, fill=white, inner sep=0.5mm, outer sep=0pt,
    at={(axis description cs:0.8932,0.7353)}, anchor=north west,
    font=\fontsize{5.3}{6}\selectfont, column sep=0.4mm, row sep=0pt,
    nodes={inner sep=0pt, text height=6.23pt, text depth=2.42pt}},
]
\addplot[dots, cgreen] table[x=x, y=G] {\tabTemp};
\addplot[dots, cblue] table[x=x, y=B] {\tabTemp};
\addplot[dots, black] table[x=x, y=K] {\tabTemp};
\addplot[dots, cred] table[x=x, y=R] {\tabTemp};
\addplot[dots, cmag] table[x=x, y=M] {\tabTemp};
\addplot[dots, cviol] table[x=x, y=V] {\tabTemp};
\legend{L750, L700, L650, L600, L550, L500}
\node[tag] at (axis description cs:0.945,0.9236) {(d)};
\end{axis}
\end{tikzpicture}
\end{document}
